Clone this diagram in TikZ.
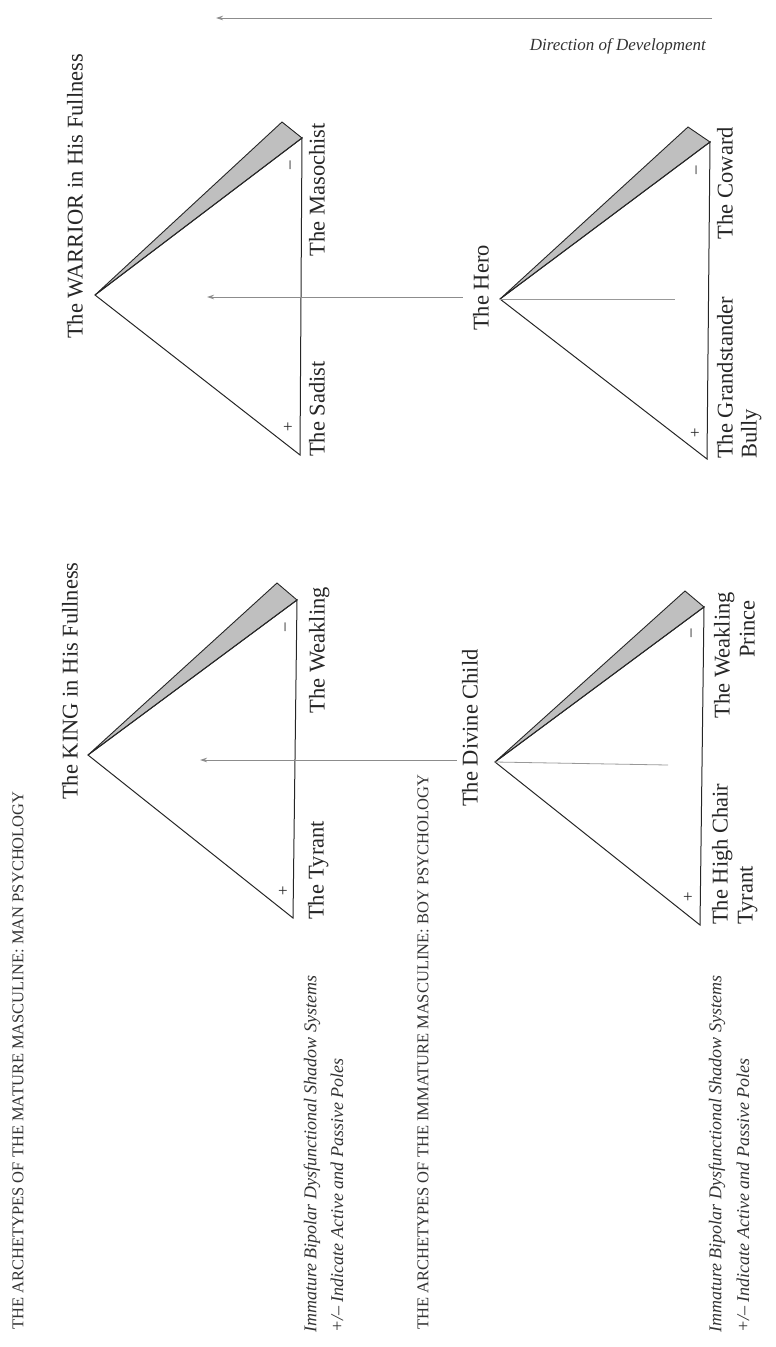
\documentclass[tikz,border=0pt]{standalone}
\usepackage{fontspec}
\setmainfont{Liberation Serif}
\usetikzlibrary{arrows.meta}
\begin{document}
\begin{tikzpicture}[x=1pt,y=-1pt,
  tri/.style={draw=black!85, line width=1pt, line join=miter},
  sliver/.style={draw=black!85, fill=black!25, line width=0.9pt, line join=miter},
  lbl/.style={rotate=90, inner sep=0pt, text=black!85, font=\fontsize{22.5}{27}\selectfont, text height=15.5pt, text depth=4.5pt},
  ttl/.style={rotate=90, inner sep=0pt, text=black!80, font=\fontsize{16.5}{20}\selectfont},
  lgd/.style={rotate=90, inner sep=0pt, text=black!80, font=\fontsize{18}{22}\selectfont\itshape},
  devarrow/.style={draw=black!45, line width=0.9pt, -{Stealth[length=7pt,width=4.5pt]}},
  guide/.style={draw=black!40, line width=0.8pt},
  pm/.style={inner sep=0pt, text=black!85, font=\fontsize{17}{17}\selectfont}]
\useasboundingbox (0,0) rectangle (776,1347);

% ---------- direction of development ----------
\coordinate (devR) at (712,18);
\coordinate (devL) at (216,18);
\draw[devarrow] (devR) -- (devL);
\node[anchor=east, inner sep=0pt, text=black!80, font=\fontsize{17}{20}\selectfont\itshape] (dir) at (706,46) {Direction of Development};

% ---------- WARRIOR ----------
\coordinate (wA) at (95,295);
\coordinate (wT) at (302,138);
\coordinate (wB) at (300,455);
\coordinate (wS) at (282,122);
\draw[sliver] (wA) -- (wS) -- (wT) -- cycle;
\draw[tri] (wA) -- (wT) -- (wB) -- cycle;
\node[lbl, anchor=west] (warrior) at (77,339) {The WARRIOR in His Fullness};
\node[lbl, anchor=west] (sadist) at (319,457) {The Sadist};
\node[lbl, anchor=east] (masochist) at (319,123) {The Masochist};
\node[pm] (wplus) at (288,428) {+};
\node[pm, rotate=90] (wminus) at (292,165) {–};

% ---------- HERO ----------
\coordinate (hA) at (500,299);
\coordinate (hT) at (710,142);
\coordinate (hB) at (707,459);
\coordinate (hS) at (688,127);
\draw[sliver] (hA) -- (hS) -- (hT) -- cycle;
\draw[tri] (hA) -- (hT) -- (hB) -- cycle;
\coordinate (hEnd) at (675,299);
\draw[guide] (hA) -- (hEnd);
\node[lbl, anchor=west] (hero) at (483,331) {The Hero};
\node[lbl, anchor=west] (grand) at (727,459) {The Grandstander};
\node[lbl, anchor=west] (bully) at (751,459) {Bully};
\node[lbl, anchor=east] (coward) at (727,127) {The Coward};
\node[pm] (hplus) at (695,434) {+};
\node[pm, rotate=90] (hminus) at (698,170) {–};
\coordinate (wTip) at (207,297);
\draw[devarrow, shorten <=10pt] (hero.north |- wTip) -- (wTip);

% ---------- KING ----------
\coordinate (kA) at (88,755);
\coordinate (kT) at (297,600);
\coordinate (kB) at (293,918);
\coordinate (kS) at (277,583);
\draw[sliver] (kA) -- (kS) -- (kT) -- cycle;
\draw[tri] (kA) -- (kT) -- (kB) -- cycle;
\node[lbl, anchor=west] (king) at (72,800) {The KING in His Fullness};
\node[lbl, anchor=west] (tyrant) at (318,920) {The Tyrant};
\node[lbl, anchor=east] (weakK) at (319,587) {The Weakling};
\node[pm] (kplus) at (283,892) {+};
\node[pm, rotate=90] (kminus) at (287,627) {–};
\coordinate (kTip) at (200,760);

% ---------- DIVINE CHILD ----------
\coordinate (dA) at (495,762);
\coordinate (dT) at (704,607);
\coordinate (dB) at (700,925);
\coordinate (dS) at (685,591);
\draw[sliver] (dA) -- (dS) -- (dT) -- cycle;
\draw[tri] (dA) -- (dT) -- (dB) -- cycle;
\coordinate (dEnd) at (668,765);
\draw[guide] (dA) -- (dEnd);
\node[lbl, anchor=west] (divine) at (472,807) {The Divine Child};
\node[lbl, anchor=west] (highchair) at (722,925) {The High Chair};
\node[lbl, anchor=west] (tyrantD) at (747,925) {Tyrant};
\node[lbl, anchor=east] (weakD) at (724,592) {The Weakling};
\node[lbl, anchor=east] (prince) at (749,600) {Prince};
\node[pm] (dplus) at (688,898) {+};
\node[pm, rotate=90] (dminus) at (693,633) {–};
\draw[devarrow, shorten <=5pt] (divine.north |- kTip) -- (kTip);

% ---------- titles and legends ----------
\node[ttl, anchor=west] (ttlMan) at (18,1330) {THE ARCHETYPES OF THE MATURE MASCULINE: MAN PSYCHOLOGY};
\node[ttl, anchor=west] (ttlBoy) at (423,1330) {THE ARCHETYPES OF THE IMMATURE MASCULINE: BOY PSYCHOLOGY};
\node[lgd, anchor=west] (lgdL1) at (312,1333) {Immature Bipolar Dysfunctional Shadow Systems};
\node[lgd, anchor=west] (lgdL2) at (337,1333) {+/– Indicate Active and Passive Poles};
\node[lgd, anchor=west] (lgdR1) at (717,1333) {Immature Bipolar Dysfunctional Shadow Systems};
\node[lgd, anchor=west] (lgdR2) at (743,1333) {+/– Indicate Active and Passive Poles};
\end{tikzpicture}
\end{document}
